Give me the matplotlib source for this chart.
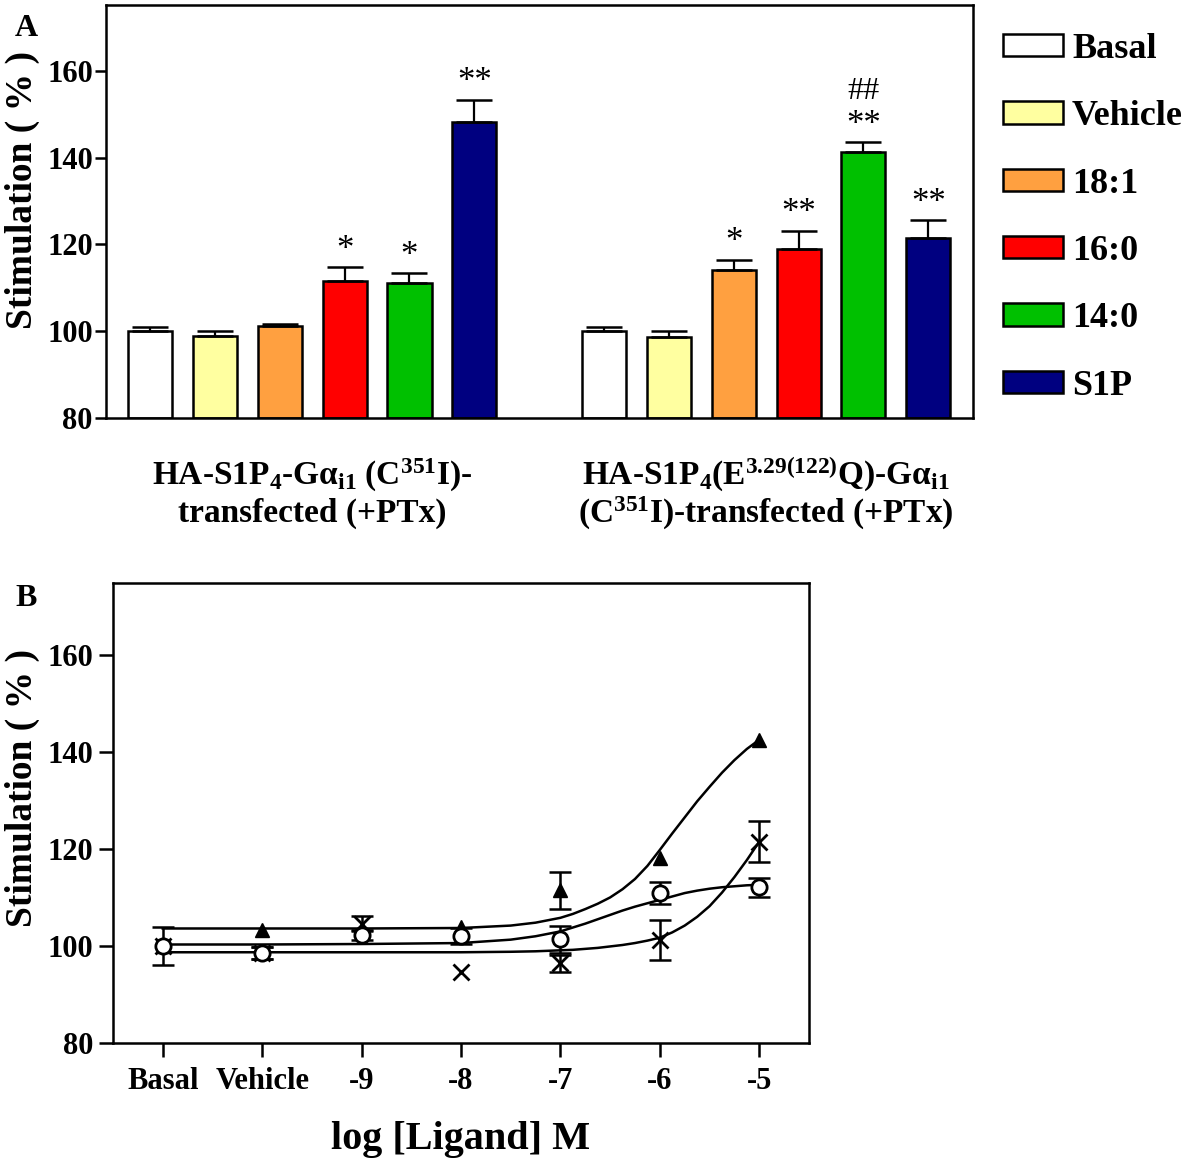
import numpy as np
import matplotlib
matplotlib.use("Agg")
import matplotlib.pyplot as plt
from matplotlib.patches import Patch

plt.rcParams['font.family'] = ['Liberation Serif', 'DejaVu Serif']
plt.rcParams['font.weight'] = 'bold'
plt.rcParams['axes.labelweight'] = 'bold'
plt.rcParams['mathtext.fontset'] = 'custom'
plt.rcParams['mathtext.rm'] = 'Liberation Serif:bold'
plt.rcParams['mathtext.it'] = 'Liberation Serif:bold'
plt.rcParams['mathtext.bf'] = 'Liberation Serif:bold'
plt.rcParams['mathtext.default'] = 'rm'

# panel A - bar data
treatments = ["Basal", "Vehicle", "18:1", "16:0", "14:0", "S1P"]
bar_colors = ["#ffffff", "#ffffa0", "#ffa040", "#ff0000", "#00c000", "#000080"]
wt_values = [100.0, 98.9, 101.2, 111.6, 111.1, 148.2]
wt_err = [0.9, 1.1, 0.4, 3.1, 2.3, 5.2]
wt_marks = ["", "", "", "*", "*", "**"]
mut_values = [100.0, 98.6, 114.1, 118.9, 141.3, 121.5]
mut_err = [1.0, 1.5, 2.4, 4.3, 2.3, 4.1]
mut_marks = ["", "", "*", "**", "**", "**"]
mut_hash = ["", "", "", "", "##", ""]

# panel B - concentration response
conc_labels = ["Basal", "Vehicle", "-9", "-8", "-7", "-6", "-5"]
tri_values = [100.0, 103.3, 103.5, 104.0, 111.5, 118.1, 142.5]
tri_err = [0, 0, 0, 0, 3.8, 0, 0]
circ_values = [100.0, 98.6, 102.3, 102.1, 101.4, 110.9, 112.1]
circ_err = [4.0, 1.2, 1.0, 1.6, 2.8, 2.3, 2.0]
cross_values = [100.0, 98.6, 104.6, 94.7, 96.4, 101.2, 121.5]
cross_err = [0, 1.2, 1.5, 0, 1.7, 4.1, 4.2]

# fitted curves
curve_x = [0, 1, 2, 3, 3.5, 3.75, 4, 4.125, 4.25, 4.375, 4.5, 4.625, 4.75, 4.875,
           5, 5.125, 5.25, 5.375, 5.5, 5.625, 5.75, 5.875, 6]
tri_curve = [103.6, 103.6, 103.6, 103.7, 104.2, 104.8, 105.8, 106.6, 107.6, 108.7,
             110.0, 111.7, 113.8, 116.5, 119.8, 123.2, 126.5, 129.8, 132.8, 135.7,
             138.3, 140.6, 142.5]
circ_curve = [100.3, 100.3, 100.4, 100.6, 101.3, 102.0, 103.0, 103.8, 104.6, 105.5,
              106.4, 107.3, 108.1, 108.8, 109.5, 110.2, 110.9, 111.4, 111.8, 112.1,
              112.3, 112.5, 112.6]
cross_curve = [98.7, 98.7, 98.7, 98.7, 98.8, 98.9, 99.1, 99.2, 99.4, 99.6,
               99.9, 100.2, 100.6, 101.1, 101.7, 102.8, 104.2, 106.0, 108.2, 111.0,
               114.2, 117.7, 121.5]

fig = plt.figure(figsize=(11.98, 11.72), dpi=100)
W, H = 1198, 1172

# ---------------- panel A ----------------
axA = fig.add_axes([106 / W, 1 - 418 / H, (973 - 106) / W, (418 - 5) / H])
pos1 = np.arange(6)
pos2 = np.arange(6) + 7
for pos, vals, errs in [(pos1, wt_values, wt_err), (pos2, mut_values, mut_err)]:
    axA.bar(pos, np.array(vals) - 80, bottom=80, width=0.68, color=bar_colors,
            edgecolor="black", linewidth=1.8, zorder=2)
    axA.errorbar(pos, vals, yerr=[np.zeros(6), errs], fmt="none", ecolor="black",
                 elinewidth=1.6, capsize=13, capthick=1.8, zorder=3)

for pos, vals, errs, marks in [(pos1, wt_values, wt_err, wt_marks),
                               (pos2, mut_values, mut_err, mut_marks)]:
    for p, v, e, m in zip(pos, vals, errs, marks):
        if m:
            axA.annotate(m, (p, v + e), xytext=(0, 6), textcoords="offset points",
                         ha="center", va="baseline", fontsize=25, fontweight="normal")
for p, v, e, m in zip(pos2, mut_values, mut_err, mut_hash):
    if m:
        axA.annotate(m, (p, v + e), xytext=(0, 31), textcoords="offset points",
                     ha="center", va="baseline", fontsize=23, fontweight="normal")

axA.set_xlim(-0.68, 12.69)
axA.set_ylim(80, 175.2)
axA.set_yticks([80, 100, 120, 140, 160])
axA.set_xticks([])
axA.tick_params(axis="y", direction="out", length=8, width=1.8, pad=1.5, labelsize=22)
for s in axA.spines.values():
    s.set_linewidth(1.8)

xt = axA.get_xaxis_transform()
axA.text(pos1.mean(), -0.138, r"HA-S1P$_4$-G$\alpha_{i1}$ (C$^{351}$I)-", transform=xt,
         ha="center", va="center", fontsize=24)
axA.text(pos1.mean(), -0.232, "transfected (+PTx)", transform=xt,
         ha="center", va="center", fontsize=24)
axA.text(pos2.mean(), -0.138, r"HA-S1P$_4$(E$^{3.29(122)}$Q)-G$\alpha_{i1}$", transform=xt,
         ha="center", va="center", fontsize=24)
axA.text(pos2.mean(), -0.232, r"(C$^{351}$I)-transfected (+PTx)", transform=xt,
         ha="center", va="center", fontsize=24)

handles = [Patch(facecolor=c, edgecolor="black", linewidth=1.8) for c in bar_colors]
fig.legend(handles, treatments, loc="upper left", bbox_to_anchor=(1003 / W, 1 - 33 / H),
           frameon=False, fontsize=26, handlelength=1.66, handleheight=0.58,
           handletextpad=0.25, labelspacing=0.95, borderpad=0, borderaxespad=0)

fig.text(15 / W, 1 - 28 / H, "A", fontsize=23, ha="left", va="center")
fig.text(22 / W, 1 - 190 / H, "Stimulation ( % )", rotation=90, fontsize=27,
         ha="center", va="center")

# ---------------- panel B ----------------
axB = fig.add_axes([113 / W, 1 - 1043 / H, (809 - 113) / W, (1043 - 583) / H])
xb = np.arange(len(conc_labels))

axB.plot(curve_x, tri_curve, color="black", linewidth=1.8, zorder=2)
axB.plot(curve_x, circ_curve, color="black", linewidth=1.8, zorder=2)
axB.plot(curve_x, cross_curve, color="black", linewidth=1.8, zorder=2)


def points_with_err(ax, x, vals, errs, z, **kw):
    vals = np.array(vals)
    errs = np.array(errs)
    ax.plot(x, vals, linestyle="none", color="black", zorder=z, **kw)
    has = errs > 0
    ax.errorbar(x[has], vals[has], yerr=errs[has], fmt="none", ecolor="black",
                elinewidth=1.8, capsize=8, capthick=1.8, zorder=z - 0.5)


points_with_err(axB, xb, tri_values, tri_err, 3.5, marker="^", markersize=10)
points_with_err(axB, xb, cross_values, cross_err, 3.6, marker="x", markersize=12,
                markeredgewidth=2)
points_with_err(axB, xb, circ_values, circ_err, 4.5, marker="o", markersize=11,
                markerfacecolor="white", markeredgewidth=2)

axB.set_xlim(-0.5, 6.5)
axB.set_ylim(80, 174.8)
axB.set_yticks([80, 100, 120, 140, 160])
axB.set_xticks(xb)
axB.set_xticklabels(conc_labels)
axB.tick_params(axis="y", direction="out", length=10, width=1.8, pad=4, labelsize=22)
axB.tick_params(axis="x", direction="out", length=10, width=1.8, pad=7, labelsize=22)
for s in axB.spines.values():
    s.set_linewidth(1.8)
axB.set_xlabel("log [Ligand] M", fontsize=29, fontweight="bold", labelpad=18)

fig.text(15 / W, 1 - 598 / H, "B", fontsize=23, ha="left", va="center")
fig.text(22 / W, 1 - 788 / H, "Stimulation ( % )", rotation=90, fontsize=27,
         ha="center", va="center")

fig.savefig("out.png", dpi=100)
